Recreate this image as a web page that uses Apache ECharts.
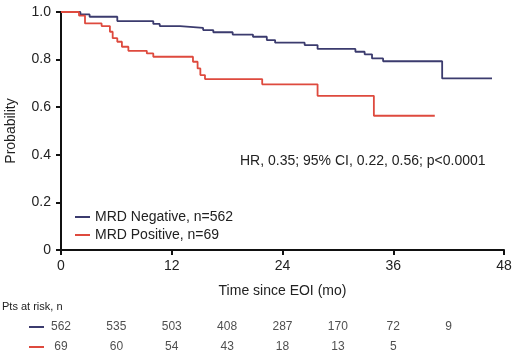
<!DOCTYPE html>
<html>
<head>
<meta charset="utf-8">
<script src="https://cdn.jsdelivr.net/npm/echarts@6/dist/echarts.min.js"></script>
<style>
  html, body { margin: 0; padding: 0; background: #fff; }
  #chart { width: 520px; height: 362px; }
</style>
</head>
<body>
<div id="chart"></div>
<script>
// Kaplan-Meier steps: [month, probability after the step]
const negativeCurve = [
    [0, 1.0], [2.1, 0.99], [3.1, 0.98], [6.1, 0.962], [10.0, 0.95], [10.7, 0.941],
    [12.9, 0.933], [15.4, 0.924], [16.5, 0.915], [18.6, 0.905], [20.8, 0.896],
    [22.3, 0.882], [23.2, 0.871], [26.4, 0.861], [27.8, 0.845], [31.9, 0.833],
    [32.9, 0.822], [33.7, 0.805], [34.9, 0.793], [41.3, 0.721], [46.7, 0.721]
];
const positiveCurve = [
    [0, 1.0], [1.95, 0.985], [2.6, 0.952], [4.4, 0.941], [5.3, 0.917], [5.6, 0.89],
    [6.1, 0.875], [6.6, 0.854], [7.3, 0.837], [9.3, 0.826], [10.0, 0.812],
    [14.3, 0.791], [14.8, 0.763], [15.1, 0.735], [15.6, 0.718], [21.8, 0.696],
    [27.8, 0.648], [33.9, 0.564], [40.5, 0.564]
];

const riskMonths = [0, 6, 12, 18, 24, 30, 36, 42];
const riskNegative = [562, 535, 503, 408, 287, 170, 72, 9];
const riskPositive = [69, 60, 54, 43, 18, 13, 5];

const seriesNames = ['MRD Negative, n=562', 'MRD Positive, n=69'];
const hrText = 'HR, 0.35; 95% CI, 0.22, 0.56; p<0.0001';

const colors = ['#3b3b6e', '#de4a3e'];
const textColor = '#222';
const font = 'Liberation Sans, Arial, sans-serif';

function riskPoints(counts, row) {
    return counts.map((n, i) => [riskMonths[i], row, n]);
}

let chartDom = document.getElementById('chart');
let myChart = echarts.init(chartDom);
let option;

option = {
    animation: false,
    textStyle: { fontFamily: font, color: textColor },
    color: colors,
    grid: [
        { left: 61, right: 16, top: 12, bottom: 112, outerBoundsMode: 'none', containLabel: false },
        { left: 61, right: 16, top: 317, height: 40, outerBoundsMode: 'none', containLabel: false }
    ],
    legend: {
        orient: 'vertical',
        left: 70,
        top: 205,
        icon: 'rect',
        itemWidth: 15,
        itemHeight: 2,
        itemGap: 4,
        data: seriesNames,
        textStyle: { fontSize: 14, color: textColor, fontFamily: font }
    },
    xAxis: [
        {
            type: 'value', gridIndex: 0, min: 0, max: 48, interval: 12,
            name: 'Time since EOI (mo)', nameLocation: 'middle', nameGap: 34,
            nameTextStyle: { fontSize: 14, color: textColor },
            axisLine: { lineStyle: { color: '#111', width: 2 } },
            axisTick: { show: true, length: 5, lineStyle: { color: '#111', width: 2 } },
            axisLabel: { fontSize: 14, color: textColor, margin: 9 },
            splitLine: { show: false }
        },
        {
            type: 'value', gridIndex: 1, min: 0, max: 48, interval: 12,
            axisLine: { show: false }, axisTick: { show: false },
            axisLabel: { show: false }, splitLine: { show: false }
        }
    ],
    yAxis: [
        {
            type: 'value', gridIndex: 0, min: 0, max: 1, interval: 0.2,
            name: 'Probability', nameLocation: 'middle', nameGap: 43,
            nameTextStyle: { fontSize: 14, color: textColor },
            axisLine: { show: true, lineStyle: { color: '#111', width: 2 } },
            axisTick: { show: true, length: 5, lineStyle: { color: '#111', width: 2 } },
            axisLabel: {
                fontSize: 14, color: textColor, margin: 10,
                formatter: v => (v === 0 ? '0' : v.toFixed(1))
            },
            splitLine: { show: false }
        },
        {
            type: 'category', gridIndex: 1, inverse: true,
            data: ['neg', 'pos'],
            axisLine: { show: false }, axisTick: { show: false },
            axisLabel: {
                margin: 17,
                formatter: v => (v === 'neg' ? '{neg|}' : '{pos|}'),
                rich: {
                    neg: { width: 15, height: 2, backgroundColor: colors[0] },
                    pos: { width: 15, height: 2, backgroundColor: colors[1] }
                }
            },
            splitLine: { show: false }
        }
    ],
    graphic: [
        {
            type: 'text', left: 240, top: 154,
            style: { text: hrText, fontSize: 14, fill: textColor, fontFamily: font }
        },
        {
            type: 'text', left: 2, top: 301,
            style: { text: 'Pts at risk, n', fontSize: 11, fill: textColor, fontFamily: font }
        }
    ],
    series: [
        {
            name: seriesNames[0], type: 'line', step: 'end',
            xAxisIndex: 0, yAxisIndex: 0,
            data: negativeCurve, showSymbol: false,
            lineStyle: { color: colors[0], width: 1.8 }
        },
        {
            name: seriesNames[1], type: 'line', step: 'end',
            xAxisIndex: 0, yAxisIndex: 0,
            data: positiveCurve, showSymbol: false,
            lineStyle: { color: colors[1], width: 1.8 }
        },
        {
            type: 'scatter', xAxisIndex: 1, yAxisIndex: 1,
            symbolSize: 0, silent: true,
            data: riskPoints(riskNegative, 'neg').concat(riskPoints(riskPositive, 'pos')),
            label: {
                show: true, position: 'inside', fontSize: 12, color: textColor,
                formatter: p => String(p.value[2])
            }
        }
    ]
};

option && myChart.setOption(option);
</script>
</body>
</html>
